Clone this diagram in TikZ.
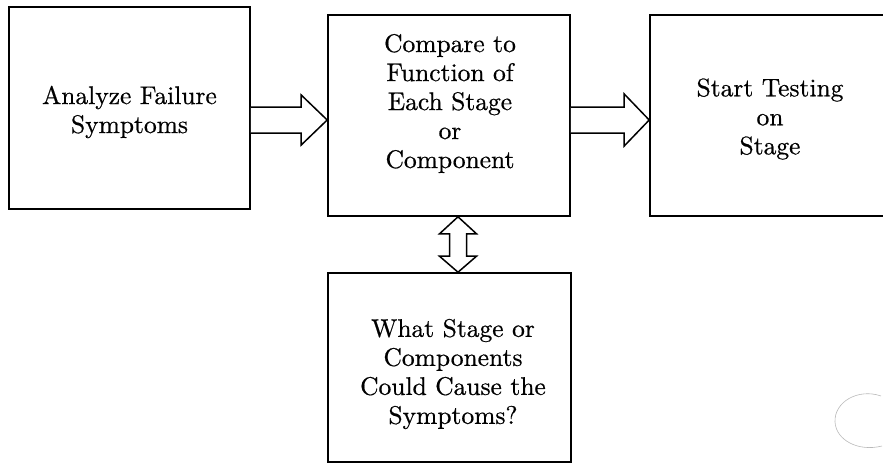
\documentclass[tikz,border=0pt]{standalone}
\usepackage{fontspec}
\setmainfont{lmroman10-regular.otf}[FakeBold=0.6]
\usetikzlibrary{calc}
\begin{document}
\begin{tikzpicture}[x=1pt,y=-1pt,
  boxst/.style={draw,line width=1.6pt,minimum width=#1,inner sep=0pt},
  txt/.style={align=center,font=\fontsize{25.5}{29}\selectfont,inner sep=0pt},
  arrowline/.style={draw,line width=1.5pt,line join=miter,fill=white}]
\useasboundingbox (0,0) rectangle (883,472);
\clip (0,0) rectangle (883,472);
% boxes
\node[boxst=241pt,minimum height=202pt] (A) at (129.5,108) {};
\node[boxst=242pt,minimum height=201pt] (B) at (449,115.5) {};
\node[boxst=240pt,minimum height=201pt] (C) at (770,115.5) {};
\node[boxst=243pt,minimum height=189pt] (D) at (449.5,367.5) {};
% texts
\node[txt] (tA) at ($(A.center)+(0,4)$) {Analyze Failure\\Symptoms};
\node[txt] (tB) at ($(B.center)+(1,-12)$) {Compare to\\Function of\\Each Stage\\or\\Component};
\node[txt] (tC) at ($(C.center)+(0,3.5)$) {Start Testing\\on\\Stage};
\node[txt] (tD) at ($(D.center)+(3.5,6.5)$) {What Stage or\\Components\\Could Cause the\\Symptoms?};
% connector end points
\coordinate (a1) at (A.east |- 0,120);
\coordinate (b1) at (B.west |- 0,120);
\coordinate (b2) at (B.east |- 0,120);
\coordinate (c1) at (C.west |- 0,120);
\coordinate (b3) at (B.south -| 458,0);
\coordinate (d1) at (D.north -| 458,0);
% block arrow A -> B
\draw[arrowline] ($(a1)+(0,-13)$) -- ($(b1)+(-26,-13)$) -- ($(b1)+(-26,-25)$) -- (b1)
  -- ($(b1)+(-26,25)$) -- ($(b1)+(-26,13)$) -- ($(a1)+(0,13)$);
% block arrow B -> C
\draw[arrowline] ($(b2)+(0,-13)$) -- ($(c1)+(-25,-13)$) -- ($(c1)+(-25,-26)$) -- (c1)
  -- ($(c1)+(-25,26)$) -- ($(c1)+(-25,13)$) -- ($(b2)+(0,13)$);
% double block arrow B <-> D
\draw[arrowline] (b3) -- ($(b3)+(18.5,17)$) -- ($(b3)+(8.5,17)$) -- ($(d1)+(8.5,-16)$)
  -- ($(d1)+(18.5,-16)$) -- (d1) -- ($(d1)+(-18.5,-16)$) -- ($(d1)+(-8.5,-16)$)
  -- ($(b3)+(-8.5,17)$) -- ($(b3)+(-18.5,17)$) -- cycle;
% faint scan mark
\draw[gray!55,line width=0.6pt] (881,396) .. controls (858,388) and (834,402) .. (835,422)
  .. controls (836,440) and (858,452) .. (882,446);
\end{tikzpicture}
\end{document}
